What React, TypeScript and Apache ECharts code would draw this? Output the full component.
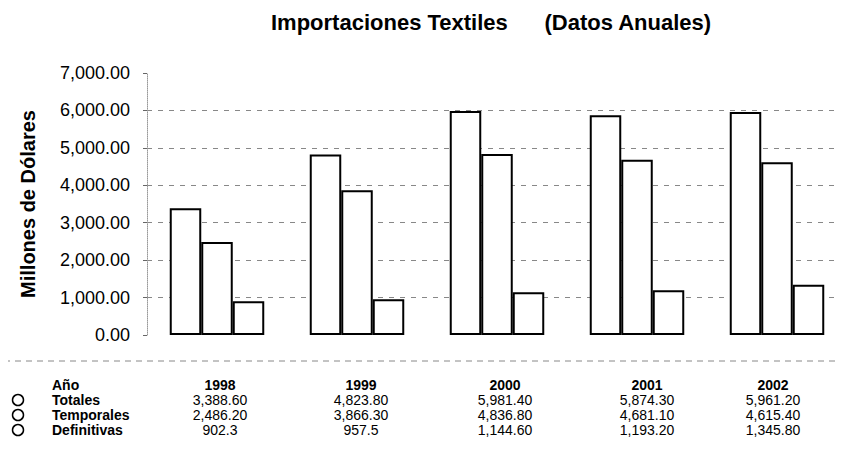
import React, { useEffect, useRef } from "react";
import * as echarts from "echarts";

const years = ["1998", "1999", "2000", "2001", "2002"];
const totales = [3388.6, 4823.8, 5981.4, 5874.3, 5961.2];
const temporales = [2486.2, 3866.3, 4836.8, 4681.1, 4615.4];
const definitivas = [902.3, 957.5, 1144.6, 1193.2, 1345.8];
const totalesText = ["3,388.60", "4,823.80", "5,981.40", "5,874.30", "5,961.20"];
const temporalesText = ["2,486.20", "3,866.30", "4,836.80", "4,681.10", "4,615.40"];
const definitivasText = ["902.3", "957.5", "1,144.60", "1,193.20", "1,345.80"];
const rowNames = ["Totales", "Temporales", "Definitivas"];

const FONT = "Liberation Sans, Arial, sans-serif";

export default function App() {
  const ref = useRef<HTMLDivElement>(null);
  useEffect(() => {
    if (!ref.current) return;
    const chart = echarts.init(ref.current, null, { renderer: "svg" });
    const colX = [220, 361, 505, 647, 773];
    const rowY = [400, 415, 430];
    const rowsText = [totalesText, temporalesText, definitivasText];
    const txt = (extra: any) => ({
      fill: "#000",
      textVerticalAlign: "middle",
      lineHeight: 14,
      ...extra,
    });
    const graphic: any[] = [
      {
        type: "line",
        shape: { x1: 4, y1: 361, x2: 846, y2: 361 },
        style: { stroke: "#888", lineWidth: 1, lineDash: [6, 5] },
      },
      { type: "text", x: 52, y: 385, style: txt({ text: "Año", font: `bold 14px ${FONT}` }) },
    ];
    years.forEach((y, i) => {
      graphic.push({
        type: "text",
        x: colX[i],
        y: 385,
        style: txt({ text: y, font: `bold 14px ${FONT}`, textAlign: "center" }),
      });
    });
    rowNames.forEach((n, r) => {
      graphic.push({
        type: "circle",
        shape: { cx: 18, cy: rowY[r], r: 5.5 },
        style: { fill: "#fff", stroke: "#000", lineWidth: 1.5 },
      });
      graphic.push({
        type: "text",
        x: 52,
        y: rowY[r],
        style: txt({ text: n, font: `bold 14px ${FONT}` }),
      });
      rowsText[r].forEach((t, i) => {
        graphic.push({
          type: "text",
          x: colX[i],
          y: rowY[r],
          style: txt({ text: t, font: `14px ${FONT}`, textAlign: "center" }),
        });
      });
    });

    const barStyle = { color: "#fff", borderColor: "#000", borderWidth: 2 };
    chart.setOption({
      animation: false,
      backgroundColor: "#fff",
      title: {
        text: "Importaciones Textiles      (Datos Anuales)",
        left: 266,
        top: 6,
        textStyle: { fontFamily: FONT, fontWeight: "bold", fontSize: 22, color: "#000" },
      },
      grid: { left: 147, right: 1, top: 73, bottom: 116 },
      xAxis: {
        type: "category",
        data: years,
        axisLine: { show: false },
        axisTick: { show: false },
        axisLabel: { show: false },
      },
      yAxis: {
        type: "value",
        min: 0,
        max: 7000,
        interval: 1000,
        name: "Millones de Dólares",
        nameLocation: "middle",
        nameGap: 109,
        nameTextStyle: { fontFamily: FONT, fontWeight: "bold", fontSize: 20, color: "#000" },
        axisLine: { show: true, lineStyle: { color: "#999", type: "dotted" } },
        axisTick: { show: true, length: 4, lineStyle: { color: "#666" } },
        axisLabel: {
          fontFamily: FONT,
          fontSize: 18,
          color: "#000",
          margin: 17,
          formatter: (v: number) =>
            v.toLocaleString("en-US", { minimumFractionDigits: 2, maximumFractionDigits: 2 }),
        },
        splitLine: {
          show: true,
          showMinLine: false,
          showMaxLine: false,
          lineStyle: { color: "#888", type: [5, 6], width: 1 },
        },
      },
      series: [
        { type: "bar", data: totales, itemStyle: barStyle, barGap: "0%", barCategoryGap: "32.5%" },
        { type: "bar", data: temporales, itemStyle: barStyle, barGap: "0%", barCategoryGap: "32.5%" },
        { type: "bar", data: definitivas, itemStyle: barStyle, barGap: "0%", barCategoryGap: "32.5%" },
      ],
      graphic,
    });
    return () => chart.dispose();
  }, []);
  return <div ref={ref} style={{ width: 848, height: 451, margin: -8 }} />;
}
